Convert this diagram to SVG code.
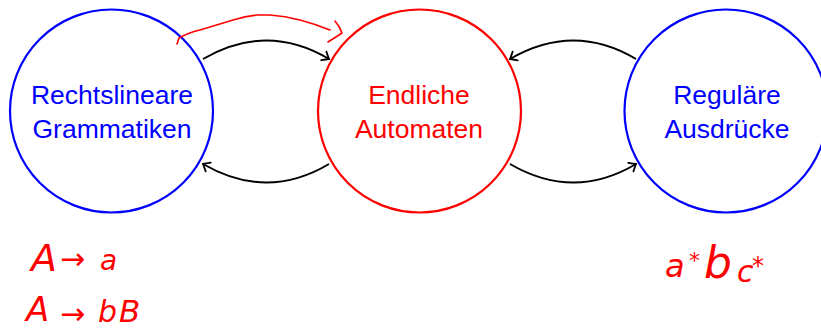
<svg xmlns="http://www.w3.org/2000/svg" width="821" height="330" viewBox="0 0 821 330">
<style>
.blue{fill:none;stroke:#0000ff;stroke-width:2.2}
.red{fill:none;stroke:#ff0000;stroke-width:2.2}
.lb{font-family:"Liberation Sans",Arial,sans-serif;font-size:26.5px;text-anchor:middle;fill:#0000ff}
.lr{font-family:"Liberation Sans",Arial,sans-serif;font-size:26.5px;text-anchor:middle;fill:#ff0000}
.edge{fill:none;stroke:#000;stroke-width:2;marker-end:url(#tip)}
.hand{font-family:"DejaVu Sans",sans-serif;font-style:italic;fill:#ff0000}
.ink{fill:none;stroke:#ff0000;stroke-width:1.6;stroke-linecap:round;stroke-linejoin:round}
</style>
<defs>
<marker id="tip" markerUnits="userSpaceOnUse" markerWidth="14" markerHeight="14" refX="0" refY="0" viewBox="-8 -7 10 14" orient="auto" overflow="visible">
<path d="M -6 -5 Q -2 -1.5 0 0 Q -2 1.5 -6 5" fill="none" stroke="#000" stroke-width="1.8" stroke-linecap="round"/>
</marker>
</defs>
<g id="node-grammatiken">
<circle class="blue" cx="111.5" cy="111" r="101.5"/>
<text class="lb" x="112" y="104">Rechtslineare</text>
<text class="lb" x="112" y="138">Grammatiken</text>
</g>
<g id="node-automaten">
<circle class="red" cx="419.5" cy="111" r="101.5"/>
<text class="lr" x="419" y="104">Endliche</text>
<text class="lr" x="419" y="138">Automaten</text>
</g>
<g id="node-ausdruecke">
<circle class="blue" cx="726" cy="111" r="101.5"/>
<text class="lb" x="727" y="104">Reguläre</text>
<text class="lb" x="727" y="138">Ausdrücke</text>
</g>
<g id="connectors">
<path class="edge" d="M 203 59 C 246 34 287 34 329 59"/>
<path class="edge" d="M 329 164 C 287 189 246 189 203 164"/>
<path class="edge" d="M 636 59 C 594 34 553 34 510 59"/>
<path class="edge" d="M 510 164 C 553 189 594 189 636 164"/>
</g>
<g id="annotations">
<path class="ink" d="M 177 44 L 179 38 Q 190 32 200 30 Q 220 24 233 20 Q 246 16 257 15 L 270 15 Q 285 16 300 20 Q 315 24 330 30"/>
<path class="ink" d="M 335 21 Q 340 27 342 33 Q 336 37 328 42"/>
<text class="hand"><tspan x="31" y="271" font-size="38">A</tspan><tspan x="60" y="269" font-size="30" font-style="normal">→</tspan><tspan x="100" y="270" font-size="28">a</tspan></text>
<text class="hand"><tspan x="26" y="321" font-size="34">A</tspan><tspan x="60" y="324" font-size="30" font-style="normal">→</tspan><tspan x="98" y="322" font-size="30">b</tspan><tspan x="119" y="322" font-size="31">B</tspan></text>
<text class="hand"><tspan x="665" y="277" font-size="32">a</tspan><tspan x="689" y="268" font-size="22">*</tspan><tspan x="704" y="278" font-size="44">b</tspan><tspan x="737" y="282" font-size="30">c</tspan><tspan x="752" y="274" font-size="24">*</tspan></text>
</g>
</svg>
